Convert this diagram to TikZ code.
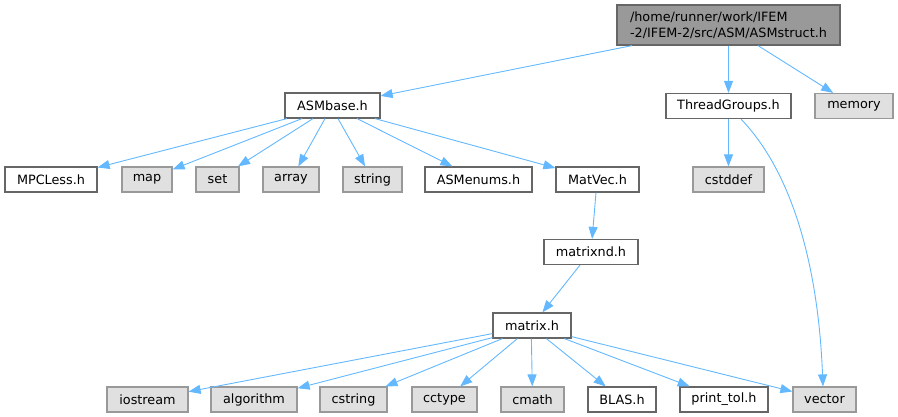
\documentclass[tikz,border=0pt]{standalone}
\usepackage{fontspec}
\setmainfont{DejaVu Sans}
\usetikzlibrary{arrows.meta,calc}
\definecolor{edgec}{HTML}{63B8FF}
\definecolor{bord}{HTML}{666666}
\definecolor{sysbord}{HTML}{999999}
\definecolor{sysfill}{HTML}{E0E0E0}
\definecolor{topfill}{HTML}{999999}
\begin{document}
\begin{tikzpicture}[x=1pt,y=-1pt,
  box/.style={draw=bord, fill=white, line width=1.2pt, minimum height=25pt, inner sep=0pt,
    font=\fontsize{12.8}{16.5}\selectfont},
  sys/.style={box, draw=sysbord, fill=sysfill},
  dep/.style={draw=edgec, line width=0.9pt, -{Triangle[length=12pt,width=9pt]}}]
\useasboundingbox (0,0) rectangle (898,417);
% nodes
\node[box, fill=topfill, minimum width=223pt, minimum height=40pt, align=left] (top) at (728.5,25) {/home/runner/work/IFEM\\-2/IFEM-2/src/ASM/ASMstruct.h};
\node[box, minimum width=95pt] (ASMbase) at (332.5,105.5) {ASMbase.h};
\node[box, minimum width=125pt] (TG) at (728.5,106) {ThreadGroups.h};
\node[sys, minimum width=78pt] (memory) at (854,106) {memory};
\node[box, minimum width=92pt] (MPCLess) at (51,179.5) {MPCLess.h};
\node[sys, minimum width=50pt] (map) at (147,179.5) {map};
\node[sys, minimum width=43pt] (set) at (217.5,179.5) {set};
\node[sys, minimum width=56pt] (array) at (291,179.5) {array};
\node[sys, minimum width=59pt] (string) at (372.5,179.5) {string};
\node[box, minimum width=107pt] (ASMenums) at (478.5,179.5) {ASMenums.h};
\node[box, minimum width=83pt] (MatVec) at (597.5,179.5) {MatVec.h};
\node[sys, minimum width=71pt] (cstddef) at (728.5,179.5) {cstddef};
\node[box, minimum width=94pt] (matrixnd) at (591,252) {matrixnd.h};
\node[box, minimum width=78pt] (matrix) at (532,325.5) {matrix.h};
\node[sys, minimum width=81pt] (iostream) at (147.5,399.5) {iostream};
\node[sys, minimum width=86pt] (algorithm) at (254,399.5) {algorithm};
\node[sys, minimum width=67pt] (cstring) at (353.5,399.5) {cstring};
\node[sys, minimum width=65pt] (cctype) at (444.5,399.5) {cctype};
\node[sys, minimum width=63pt] (cmath) at (532.5,399.5) {cmath};
\node[box, minimum width=68pt] (BLAS) at (622,399.5) {BLAS.h};
\node[box, minimum width=88pt] (printtol) at (724,399.5) {print\_tol.h};
\node[sys, minimum width=63pt] (vector) at (824.5,399.5) {vector};
% edges from top
\draw[dep] ($(top.south)+(-96.5,0)$) -- (ASMbase);
\draw[dep] (top.south) -- (TG.north);
\draw[dep] ($(top.south)+(29.5,0)$) -- (memory);
% edges from ASMbase
\draw[dep] ($(ASMbase.south)+(-45.5,0)$) -- (MPCLess);
\draw[dep] ($(ASMbase.south)+(-30.5,0)$) -- (map);
\draw[dep] ($(ASMbase.south)+(-19.5,0)$) -- (set);
\draw[dep] ($(ASMbase.south)+(-7.5,0)$) -- (array);
\draw[dep] ($(ASMbase.south)+(5.5,0)$) -- (string);
\draw[dep] ($(ASMbase.south)+(24.5,0)$) -- (ASMenums);
\draw[dep] ($(ASMbase.south)+(42.5,0)$) -- (MatVec);
% ThreadGroups
\draw[dep] (TG.south) -- (cstddef.north);
\draw[dep] ($(TG.south)+(12.5,0)$) .. controls (790,170) and (818,260) .. ($(vector.north)+(-1.5,0)$);
% MatVec chain
\draw[dep] ($(MatVec.south)+(-1.5,0)$) -- (matrixnd);
\draw[dep] ($(matrixnd.south)+(-11,0)$) -- (matrix);
% matrix children
\draw[dep] ($(matrix.south west)+(0,-5)$) -- (iostream);
\draw[dep] ($(matrix.south west)+(0,-1)$) -- (algorithm);
\draw[dep] ($(matrix.south west)+(10,0)$) -- (cstring);
\draw[dep] ($(matrix.south west)+(25,0)$) -- (cctype);
\draw[dep] ($(matrix.south west)+(39,0)$) -- (cmath);
\draw[dep] ($(matrix.south west)+(54,0)$) -- (BLAS);
\draw[dep] ($(matrix.south west)+(72,0)$) -- (printtol);
\draw[dep] ($(matrix.south east)+(0,-2)$) -- (vector);
\end{tikzpicture}
\end{document}
